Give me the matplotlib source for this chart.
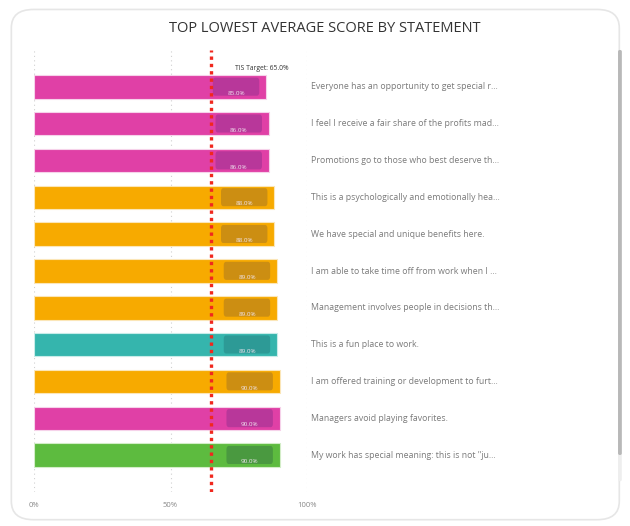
import matplotlib
matplotlib.use("Agg")
import matplotlib.pyplot as plt
from matplotlib.patches import FancyBboxPatch

plt.rcParams['font.family'] = ['Open Sans', 'DejaVu Sans']

statements = [
    "Everyone has an opportunity to get special r...",
    "I feel I receive a fair share of the profits mad...",
    "Promotions go to those who best deserve th...",
    "This is a psychologically and emotionally hea...",
    "We have special and unique benefits here.",
    "I am able to take time off from work when I ...",
    "Management involves people in decisions th...",
    "This is a fun place to work.",
    "I am offered training or development to furt...",
    "Managers avoid playing favorites.",
    "My work has special meaning: this is not \"ju...",
]
scores = [85.0, 86.0, 86.0, 88.0, 88.0, 89.0, 89.0, 89.0, 90.0, 90.0, 90.0]
groups = ["magenta", "magenta", "magenta", "orange", "orange", "orange",
          "orange", "teal", "orange", "magenta", "green"]
target = 65.0
xticks = [0, 50, 100]
xticklabels = ["0%", "50%", "100%"]
title = "TOP LOWEST AVERAGE SCORE BY STATEMENT"

bar_colors = {"magenta": "#E040A6", "orange": "#F7AA00", "teal": "#35B5AD", "green": "#5DBB3F"}
box_colors = {"magenta": "#B8379A", "orange": "#CC8E12", "teal": "#2D9A96", "green": "#4A9940"}
edge_colors = {"magenta": "#F6D2EA", "orange": "#FBE6B8", "teal": "#C8ECE9", "green": "#D3EDC8"}

fig = plt.figure(figsize=(6.3, 5.26), dpi=100)
fig.patch.set_facecolor("white")

# card background
card = FancyBboxPatch((0.018, 0.012), 0.965, 0.97, boxstyle="round,pad=0,rounding_size=0.035",
                      transform=fig.transFigure, facecolor="#FFFFFF", edgecolor="#E6E6E6",
                      linewidth=1.2, zorder=-5)
fig.patches.append(card)

# scrollbar
fig.patches.append(FancyBboxPatch((0.981, 0.085), 0.006, 0.82, boxstyle="round,pad=0,rounding_size=0.003",
                                  transform=fig.transFigure, facecolor="#EEEEEE", edgecolor="none", zorder=-4))
fig.patches.append(FancyBboxPatch((0.981, 0.135), 0.006, 0.77, boxstyle="round,pad=0,rounding_size=0.003",
                                  transform=fig.transFigure, facecolor="#B8B8B8", edgecolor="none", zorder=-3))

fig.text(0.515, 0.946, title, ha="center", va="center", fontsize=10.5, color="#333333")

ax = fig.add_axes([0.054, 0.0646, 0.4333, 0.8403])
ax.set_zorder(5)
ax.set_facecolor("none")
n = len(scores)
for y, (v, g, s) in enumerate(zip(scores, groups, statements)):
    ax.barh(y, v, height=0.64, color=bar_colors[g], edgecolor=edge_colors[g],
            linewidth=0.8, zorder=2)
    bx0 = v - 19.5
    bw = 17.0
    ax.add_patch(FancyBboxPatch((bx0, y - 0.25), bw, 0.49,
                                boxstyle="round,pad=0,rounding_size=0.9",
                                mutation_aspect=0.1,
                                facecolor=box_colors[g], edgecolor="none", zorder=3))
    ax.text(bx0 + bw / 2, y + 0.18, f"{v:.1f}%", ha="center", va="center",
            fontsize=4.5, color="#F2E6F0", zorder=4)
    ax.text(101.5, y, s, ha="left", va="center",
            fontsize=6.3, color="#7A7A7A", clip_on=False)

ax.axvline(target, color="#F0281E", linestyle=(0, (1, 1.2)), linewidth=2.4, zorder=5)
ax.text(target + 8.5, -0.5, f"TIS Target: {target:.1f}%", ha="left", va="center",
        fontsize=4.9, color="#333333", zorder=6)

ax.set_xlim(0, 100)
ax.set_ylim(n, -1)
ax.set_xticks(xticks)
ax.set_xticklabels(xticklabels, fontsize=5.5, color="#888888")
ax.set_yticks([])
ax.tick_params(axis="x", length=0, pad=7)
for sp in ax.spines.values():
    sp.set_visible(False)
ax.grid(axis="x", color="#D0D0D0", linestyle=(0, (1, 3)), linewidth=0.8, zorder=0)
ax.set_axisbelow(True)

fig.savefig("out.png", dpi=100, facecolor="white")
